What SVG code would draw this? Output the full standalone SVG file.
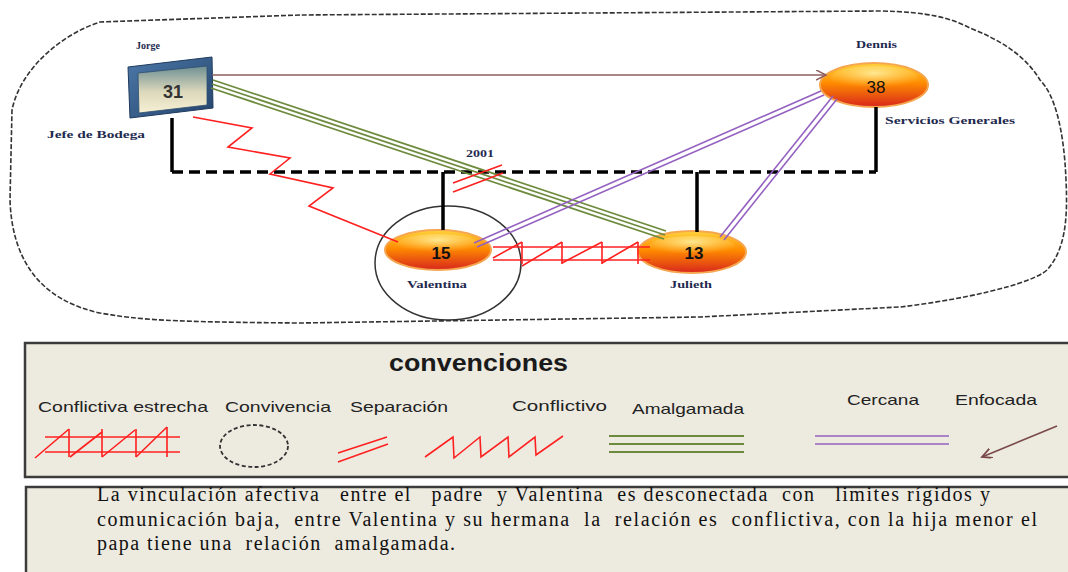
<svg xmlns="http://www.w3.org/2000/svg" width="1068" height="572" viewBox="0 0 1068 572">
<defs>
<linearGradient id="og" x1="0" y1="0" x2="0" y2="1">
<stop offset="0" stop-color="#FFD43C"/>
<stop offset="0.45" stop-color="#FF8C00"/>
<stop offset="1" stop-color="#D8261C"/>
</linearGradient>
<radialGradient id="hl" cx="0.5" cy="0.3" r="0.6">
<stop offset="0" stop-color="#FFF6B0" stop-opacity="0.8"/>
<stop offset="1" stop-color="#FFE070" stop-opacity="0"/>
</radialGradient>
<linearGradient id="panel" x1="0" y1="0" x2="0" y2="1">
<stop offset="0" stop-color="#6E8F92"/>
<stop offset="0.55" stop-color="#DCD8BC"/>
<stop offset="1" stop-color="#F7F0D4"/>
</linearGradient>
<linearGradient id="frame" x1="0" y1="0" x2="1" y2="1">
<stop offset="0" stop-color="#4C78A8"/>
<stop offset="1" stop-color="#24446C"/>
</linearGradient>
<marker id="arr" markerWidth="12" markerHeight="12" refX="10" refY="5" orient="auto" markerUnits="userSpaceOnUse">
<path d="M0,0 L10,5 L0,10" fill="none" stroke="#8E5C5C" stroke-width="1.5"/>
</marker>
<marker id="arr2" markerWidth="14" markerHeight="12" refX="10" refY="5" orient="auto" markerUnits="userSpaceOnUse">
<path d="M0,0 L10,5 L0,10" fill="none" stroke="#7A4A4A" stroke-width="1.8"/>
</marker>
</defs>
<style>
.lbl{font-family:"Liberation Serif",serif;font-weight:bold;font-size:10px;fill:#1F2A50}
.num{font-family:"Liberation Sans",sans-serif;font-size:17px;fill:#111;text-anchor:middle;dominant-baseline:central}
.leg{font-family:"Liberation Sans",sans-serif;font-size:15px;fill:#222}
.txt{font-family:"Liberation Serif","Times New Roman",serif;font-size:20px;fill:#111;white-space:pre}
.dash{stroke:#000;stroke-width:3.5;stroke-dasharray:11 6;fill:none}
.solid{stroke:#000;stroke-width:3.5;fill:none}
.red{stroke:#FF2020;stroke-width:1.6;fill:none}
.grn{stroke:#6E8B3D;stroke-width:1.8;fill:none}
.pur{stroke:#9461C0;stroke-width:1.6;fill:none}
.ell{fill:url(#og);stroke:#F5A650;stroke-width:2}
.hi{fill:url(#hl)}
.box{fill:#EDEAE0;stroke:#3C3C3C;stroke-width:2.5}
</style>

<rect x="0" y="0" width="1068" height="572" fill="#FFFFFF"/>

<!-- household boundary -->
<path d="M300,15 L100,22 C60,35 20,70 12,110 L10,200 C12,260 40,300 100,313 C140,320 170,322 300,323 L700,317 L900,307 C960,300 1030,285 1047,270 C1065,250 1068,220 1066,180 C1064,130 1055,95 1040,80 C1025,55 1000,40 970,28 C950,18 930,12 880,11 Z" fill="none" stroke="#333" stroke-width="1.6" stroke-dasharray="5 2"/>

<!-- Jorge -->
<g id="jorge">
<path d="M128,67 L212,57 L213,108 L130,118 Z" fill="url(#frame)" stroke="#1E3A5E" stroke-width="1"/>
<path d="M138,73 L207,66 L207,105 L139,113 Z" fill="url(#panel)" stroke="#2E4E70" stroke-width="0.8"/>
<text x="173" y="92" class="num" style="font-weight:bold;fill:#333;font-size:18px">31</text>
<text x="136" y="49" class="lbl">Jorge</text>
<text x="47" y="138" class="lbl" textLength="98" lengthAdjust="spacingAndGlyphs">Jefe de Bodega</text>
</g>

<!-- Dennis -->
<g id="dennis">
<ellipse cx="874" cy="85" rx="54" ry="22" class="ell"/>
<ellipse cx="874" cy="78" rx="44" ry="12" class="hi"/>
<text x="876" y="87" class="num">38</text>
<text x="856" y="48" class="lbl" textLength="41" lengthAdjust="spacingAndGlyphs">Dennis</text>
<text x="885" y="124" class="lbl" textLength="130" lengthAdjust="spacingAndGlyphs">Servicios Generales</text>
</g>

<!-- Valentina -->
<g id="valentina">
<ellipse cx="448" cy="263" rx="73" ry="57" fill="none" stroke="#333" stroke-width="1.5"/>
<ellipse cx="438" cy="250" rx="53" ry="20" class="ell"/>
<ellipse cx="438" cy="244" rx="42" ry="10" class="hi"/>
<text x="441" y="253" class="num" style="font-weight:bold">15</text>
<text x="407" y="288" class="lbl" textLength="60" lengthAdjust="spacingAndGlyphs">Valentina</text>
</g>

<!-- Julieth -->
<g id="julieth">
<ellipse cx="692" cy="252" rx="54" ry="21" class="ell"/>
<ellipse cx="692" cy="246" rx="43" ry="10" class="hi"/>
<text x="694" y="253" class="num" style="font-weight:bold">13</text>
<text x="670" y="288" class="lbl" textLength="42" lengthAdjust="spacingAndGlyphs">Julieth</text>
</g>

<!-- connectors -->
<g id="connectors">
<path d="M172,118 L172,172" class="solid"/>
<path d="M876,107 L876,172" class="solid"/>
<path d="M172,172 L876,172" class="dash"/>
<path d="M443,172 L443,230" class="solid"/>
<path d="M697,172 L697,232" class="solid"/>
<line x1="212" y1="75" x2="826" y2="75" stroke="#8E5C5C" stroke-width="1.5" marker-end="url(#arr)"/>
<line x1="213" y1="80" x2="666" y2="231" class="grn"/>
<line x1="212" y1="84" x2="665" y2="235" class="grn"/>
<line x1="211" y1="88" x2="664" y2="239" class="grn"/>
<line x1="474" y1="243" x2="821" y2="91" class="pur"/>
<line x1="477" y1="247" x2="824" y2="95" class="pur"/>
<line x1="720" y1="237" x2="833" y2="96" class="pur"/>
<line x1="724" y1="240" x2="837" y2="99" class="pur"/>
<polyline points="193,117 252,128 228,147 290,158 270,174 333,188 309,206 398,242" class="red"/>
<line x1="453" y1="183" x2="502" y2="165" class="red"/>
<line x1="453" y1="192" x2="503" y2="173" class="red"/>
<text x="466" y="157" class="lbl" textLength="28" lengthAdjust="spacingAndGlyphs">2001</text>
<line x1="493" y1="247" x2="650" y2="247" class="red"/>
<line x1="493" y1="260" x2="650" y2="260" class="red"/>
<path d="M522,242 L522,264 M562,242 L562,264 M602,242 L602,264 M638,242 L638,264" class="red"/>
<path d="M493,258 L522,242 M522,266 L562,242 M562,263 L602,242 M602,263 L638,242" class="red"/>
</g>

<!-- legend -->
<g id="legend">
<rect x="25" y="343" width="1050" height="134" class="box"/>
<text x="389" y="371" style="font-family:'Liberation Sans',sans-serif;font-weight:bold;font-size:24px;fill:#1a1a1a" textLength="179" lengthAdjust="spacingAndGlyphs">convenciones</text>
<text x="38" y="412" class="leg" textLength="170" lengthAdjust="spacingAndGlyphs">Conflictiva estrecha</text>
<text x="225" y="412" class="leg" textLength="106" lengthAdjust="spacingAndGlyphs">Convivencia</text>
<text x="350" y="412" class="leg" textLength="98" lengthAdjust="spacingAndGlyphs">Separación</text>
<text x="512" y="411" class="leg" textLength="95" lengthAdjust="spacingAndGlyphs">Conflictivo</text>
<text x="632" y="414" class="leg" textLength="112" lengthAdjust="spacingAndGlyphs">Amalgamada</text>
<text x="847" y="405" class="leg" textLength="72" lengthAdjust="spacingAndGlyphs">Cercana</text>
<text x="955" y="405" class="leg" textLength="82" lengthAdjust="spacingAndGlyphs">Enfocada</text>
<line x1="45" y1="437" x2="180" y2="437" class="red" stroke-width="2"/>
<line x1="45" y1="452" x2="180" y2="452" class="red" stroke-width="2"/>
<path d="M69,429 L69,457 M102,429 L102,457 M136,429 L136,457 M167,427 L167,457" class="red" stroke-width="2"/>
<path d="M35,458 L69,429 M70,457 L102,432 M102,457 L135,430 M136,457 L167,427" class="red" stroke-width="1.6"/>
<ellipse cx="254" cy="446" rx="34" ry="21" fill="none" stroke="#333" stroke-width="1.8" stroke-dasharray="4 2.5"/>
<line x1="338" y1="453" x2="387" y2="437" class="red" stroke-width="2"/>
<line x1="338" y1="462" x2="388" y2="444" class="red" stroke-width="2"/>
<polyline points="425,457 453,437 454,458 480,437 481,457 508,437 509,457 535,437 536,455 563,436" class="red" stroke-width="1.8"/>
<line x1="609" y1="436" x2="744" y2="436" class="grn" stroke-width="2.2"/>
<line x1="609" y1="444" x2="744" y2="444" class="grn" stroke-width="2.2"/>
<line x1="609" y1="452" x2="744" y2="452" class="grn" stroke-width="2.2"/>
<line x1="815" y1="436" x2="949" y2="436" class="pur" stroke-width="2.2"/>
<line x1="815" y1="444" x2="949" y2="444" class="pur" stroke-width="2.2"/>
<line x1="1057" y1="426" x2="982" y2="457" stroke="#7A4A4A" stroke-width="1.6" marker-end="url(#arr2)"/>
</g>

<!-- description -->
<g id="description">
<rect x="26" y="487" width="1050" height="95" class="box" stroke-width="2"/>
<text x="97" y="501" class="txt" textLength="893" lengthAdjust="spacing">La vinculación afectiva   entre el   padre  y Valentina  es desconectada  con   limites rígidos y</text>
<text x="97" y="526" class="txt" textLength="940" lengthAdjust="spacing">comunicación baja,  entre Valentina y su hermana  la  relación es  conflictiva, con la hija menor el</text>
<text x="97" y="550" class="txt" textLength="358" lengthAdjust="spacing">papa tiene una  relación  amalgamada.</text>
</g>
</svg>
